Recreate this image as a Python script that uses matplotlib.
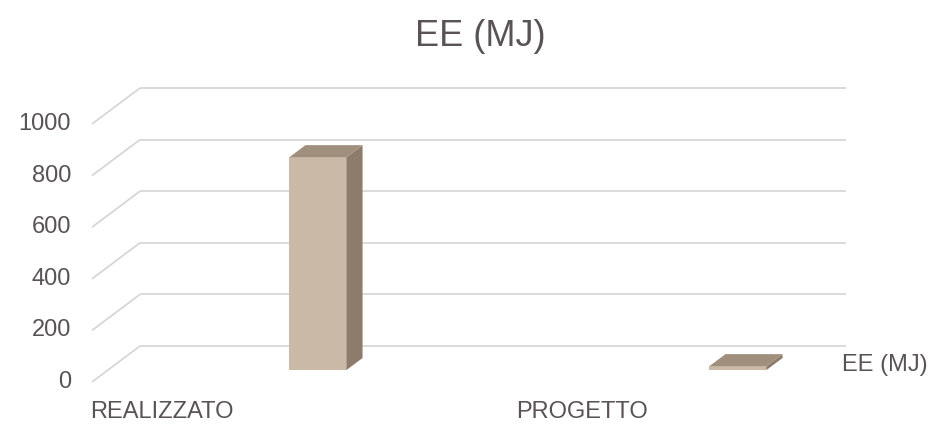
import matplotlib
matplotlib.use("Agg")
import matplotlib.pyplot as plt

# Data
categories = ["REALIZZATO", "PROGETTO"]
values = [825, 15]
series_name = "EE (MJ)"
y_ticks = [0, 200, 400, 600, 800, 1000]
title = "EE (MJ)"

plt.rcParams["font.family"] = ["Liberation Sans", "DejaVu Sans"]
TEXT = "#595353"
GRID = "#d4d4d4"
FRONT = "#cab9a7"
SIDE = "#8d7c6c"
TOP = "#a18f7e"

W, H, DPI = 939, 433, 100
fig = plt.figure(figsize=(W / DPI, H / DPI), dpi=DPI)
ax = fig.add_axes([0, 0, 1, 1])

# Oblique 3D projection: one category = 420 px, 1000 units = 258 px
PX_PER_CAT = 420.0
UNITS_PER_PX = 1000.0 / 258.0
X0_PX, Y0_PX = 318.0, 63.0
ax.set_xlim(-X0_PX / PX_PER_CAT, (W - X0_PX) / PX_PER_CAT)
ax.set_ylim(-Y0_PX * UNITS_PER_PX, (H - Y0_PX) * UNITS_PER_PX)
ax.axis("off")

DX = 16 / PX_PER_CAT          # depth step, category units
DY = 12 * UNITS_PER_PX        # depth step, value units
X_LEFT, X_RIGHT = -0.5, 1.18  # extent of the walls
BAR_W = 0.136

# Back wall gridlines (depth 2) and side-wall diagonals (depth -1 -> 2)
for v in y_ticks:
    ax.plot([X_LEFT + 2 * DX, X_RIGHT + 2 * DX], [v + 2 * DY, v + 2 * DY],
            color=GRID, lw=1.2, solid_capstyle="butt", zorder=1)
    ax.plot([X_LEFT - DX, X_LEFT + 2 * DX], [v - DY, v + 2 * DY],
            color=GRID, lw=1.2, solid_capstyle="butt", zorder=1)
    ax.annotate(f"{v}", xy=(X_LEFT - DX, v - DY), xytext=(-21, 0),
                textcoords="offset pixels", ha="right", va="center",
                fontsize=17, color=TEXT)

# 3D columns (front face at depth 0, back face at depth 1)
for i, v in enumerate(values):
    l, r = i - BAR_W / 2, i + BAR_W / 2
    ax.fill([l, r, r, l], [0, 0, v, v], color=FRONT, lw=0, zorder=3)
    ax.fill([r, r + DX, r + DX, r], [0, DY, v + DY, v], color=SIDE, lw=0, zorder=3)
    ax.fill([l, r, r + DX, l + DX], [v, v, v + DY, v + DY], color=TOP, lw=0, zorder=4)

# Category labels along the front edge
for i, c in enumerate(categories):
    ax.annotate(c, xy=(i - DX, -DY), xytext=(-140, -30),
                textcoords="offset pixels", ha="center", va="center",
                fontsize=17, color=TEXT)

fig.text(480 / W, 1 - 36 / H, title, ha="center", va="center",
         fontsize=26, color=TEXT)
fig.text(842 / W, 1 - 365 / H, series_name, ha="left", va="center",
         fontsize=17, color=TEXT)

fig.savefig("out.png", dpi=DPI, facecolor="white")
